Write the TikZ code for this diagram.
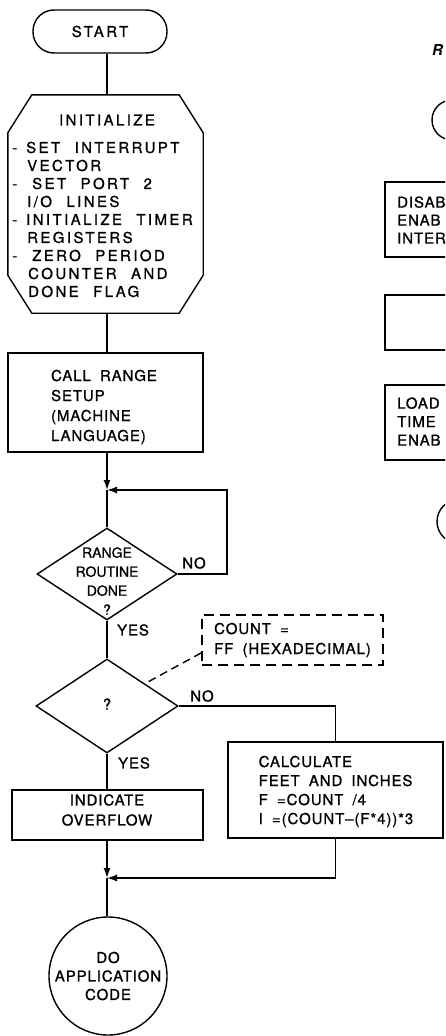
\documentclass[tikz,border=0pt]{standalone}
\usepackage{fontspec}
\setmainfont{TeX Gyre Heros}
\newfontfamily\lett[LetterSpace=6,WordSpace=1.8,FakeBold=1]{TeX Gyre Heros}
\newfontfamily\lettw[LetterSpace=16,WordSpace=2.2,FakeBold=1]{TeX Gyre Heros}
\newfontfamily\lettn[WordSpace=1.5,FakeBold=1]{TeX Gyre Heros}
\usetikzlibrary{arrows.meta,shapes.geometric,calc}
\begin{document}
\begin{tikzpicture}[x=1pt,y=-1pt,
  line/.style={line width=1.4pt, black},
  arr/.style={line, -{Latex[length=10pt,width=7pt]}},
  box/.style={draw, line width=1.4pt, rectangle, inner sep=0pt},
  t/.style={inner sep=0pt, align=left, font=\lett\fontsize{15}{18.5}\selectfont},
  tw/.style={inner sep=0pt, align=left, font=\lettw\fontsize{15}{18}\selectfont}]
\useasboundingbox (0,0) rectangle (445,1036);
\clip (0,0) rectangle (445,1036);

% START
\node[draw, line width=1.4pt, rounded corners=21pt, minimum width=134pt, minimum height=43pt, t, font=\lettw\fontsize{15}{18}\selectfont] (start) at (100,31.5) {START};

% INITIALIZE (chamfered box)
\node[minimum width=195pt, minimum height=218pt, inner sep=0pt] (init) at (105.5,204) {};
\draw[line] ([xshift=24pt]init.north west) -- ([xshift=-24pt]init.north east)
  -- ([yshift=-38pt]init.north east) -- ([yshift=38pt]init.south east)
  -- ([xshift=-24pt]init.south east) -- ([xshift=24pt]init.south west)
  -- ([yshift=38pt]init.south west) -- ([yshift=-38pt]init.north west) -- cycle;
\node[tw] (initt) at (107,120) {INITIALIZE};
\node[tw, anchor=west] (initl) at (12,219.5) {\makebox[14pt][l]{-}SET INTERRUPT\\
\hspace*{15pt}VECTOR\\
\makebox[20pt][l]{-}SET PORT 2\\
\hspace*{15pt}I/O LINES\\
\makebox[14pt][l]{-}INITIALIZE TIMER\\
\hspace*{15pt}REGISTERS\\
\makebox[20pt][l]{-}ZERO PERIOD\\
\hspace*{16pt}COUNTER AND\\
\hspace*{16pt}DONE FLAG};

% CALL RANGE SETUP
\node[box, minimum width=195pt, minimum height=99pt] (call) at (105.5,402.5) {};
\node[t, font=\lett\fontsize{15}{20}\selectfont] (callt) at (104,407) {CALL RANGE\\SETUP\\(MACHINE\\LANGUAGE)};

% first decision
\coordinate (j1) at (107,490);
\coordinate (l1) at (227,490);
\node[draw, line width=1.4pt, diamond, minimum width=140pt, minimum height=92pt, inner sep=0pt] (d1) at (107,574) {};
\node[t, align=center, font=\lettn\fontsize{14}{19}\selectfont] (d1t) at (107,581) {RANGE\\ROUTINE\\DONE\\?};
\node[t] (no1) at (194,563) {NO};
\node[t] (yes1) at (133,630) {YES};

\draw[arr] (call.south -| j1) -- (j1);
\draw[line] (j1) -- (d1.north);
\draw[arr] (d1.east) -| (l1) -- (j1);

% second decision
\node[draw, line width=1.4pt, diamond, minimum width=142pt, minimum height=94pt, inner sep=0pt] (d2) at (107,706) {};
\node[t] (d2t) at (107,704) {?};
\draw[line] (d1.south) -- (d2.north);

% annotation
\node[draw, line width=1.4pt, dash pattern=on 10pt off 6pt, minimum width=181pt, minimum height=50pt, t, font=\lett\fontsize{15}{20}\selectfont] (dbox) at (292.5,640) {COUNT =\\FF (HEXADECIMAL)};
\draw[line, dash pattern=on 8pt off 5pt] ($(dbox.south west)!0.25!(dbox.north west)$) -- ($(d2.north)!0.53!(d2.east)$);

% NO branch
\node[t] (no2) at (202,696) {NO};
\node[box, minimum width=215pt, minimum height=96pt] (calc) at (335.5,790) {};
\node[t, font=\lett\fontsize{15}{19}\selectfont] (calct) at (336,791.5) {CALCULATE\\FEET AND INCHES\\F =COUNT /4\\I =(COUNT–(F*4))*3};
\draw[line] (d2.east) -| (calc.north);

% YES branch
\node[t] (yes2) at (134,763) {YES};
\node[box, minimum width=191pt, minimum height=50pt] (ovf) at (107.5,815) {};
\node[t, align=center, font=\lett\fontsize{15}{20}\selectfont] (ovft) at (107,810) {INDICATE\\OVERFLOW};
\draw[line] (d2.south) -- (ovf.north -| d2.south);

% merge
\coordinate (j2) at (107,878);
\draw[arr] (ovf.south -| j2) -- (j2);
\draw[arr] (calc.south) |- (j2);

\node[draw, line width=1.4pt, circle, minimum size=118pt, inner sep=0pt, t, align=center] (app) at (108,976) {DO\\APPLICATION\\CODE};
\draw[line] (j2) -- (app.north -| j2);

% start connections
\draw[line] (start.south -| initt) -- (init.north -| initt);
\draw[line] (init.south -| initt) -- (call.north -| initt);

% right-hand column, cut off by the page edge
\node[t, font=\bfseries\itshape\fontsize{15}{18}\selectfont, anchor=west] (rtitle) at (432,50) {R};
\node[draw, line width=1.4pt, rounded corners=20pt, minimum width=120pt, minimum height=40pt] (rstart) at (492,120) {};
\node[box, minimum width=120pt, minimum height=75pt] (rdis) at (445,219.5) {};
\node[t, anchor=west, font=\lett\fontsize{15}{18}\selectfont] (rdist) at (397,220) {DISAB\\ENAB\\INTER};
\node[box, minimum width=120pt, minimum height=55pt] (rempty) at (445,322.5) {};
\node[box, minimum width=120pt, minimum height=75pt] (rload) at (445,422.5) {};
\node[t, anchor=west, font=\lett\fontsize{15}{18.5}\selectfont] (rloadt) at (397,421.5) {LOAD\\TIME\\ENAB};
\node[draw, line width=1.4pt, rounded corners=22pt, minimum width=120pt, minimum height=44pt] (rend) at (497,521.5) {};
\end{tikzpicture}
\end{document}
